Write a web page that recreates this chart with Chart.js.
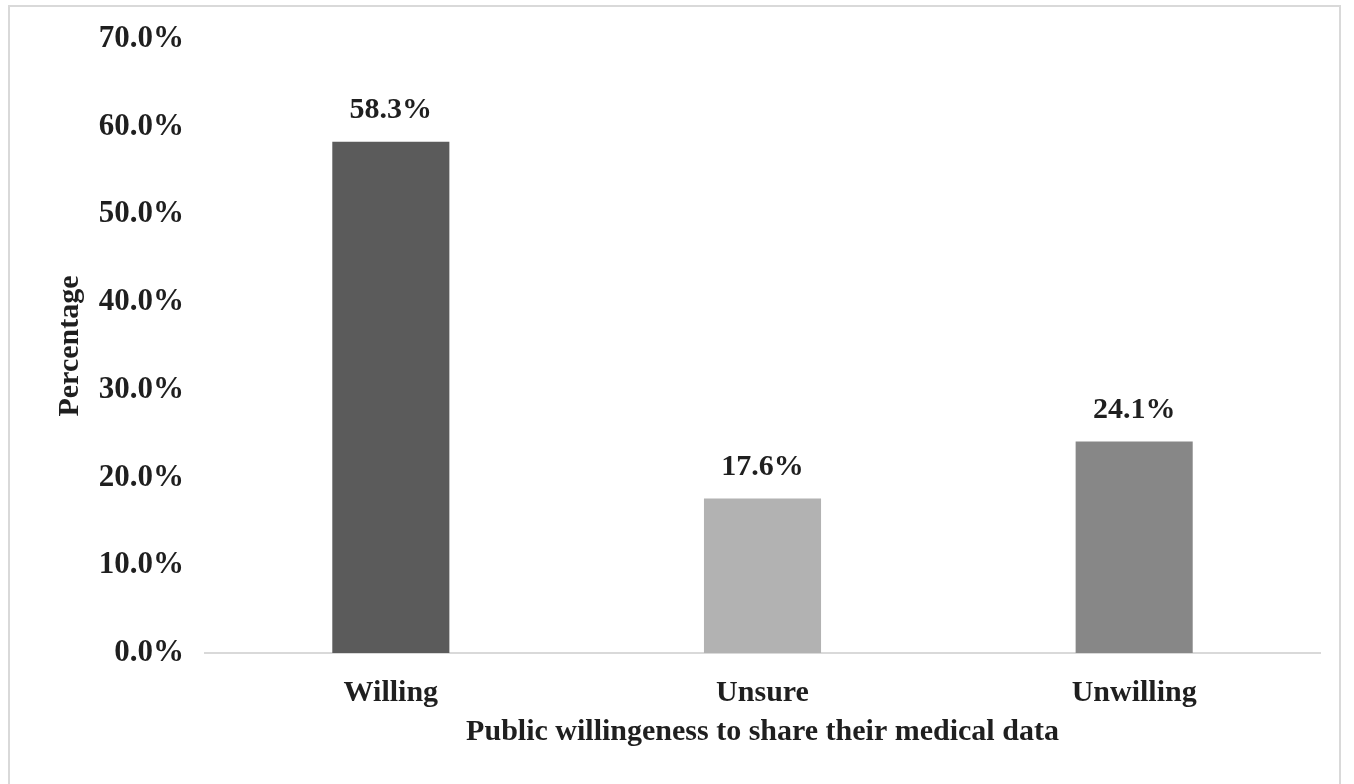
<!DOCTYPE html>
<html>
<head>
<meta charset="utf-8">
<script src="https://cdn.jsdelivr.net/npm/chart.js@4"></script>
<style>
  html, body { margin: 0; padding: 0; background: #fff; overflow: hidden; }
  #wrap { position: relative; width: 1354px; height: 784px; }
  #frame { position: absolute; left: 8px; top: 5px; width: 1333px; height: 820px; border: 2px solid #d9d9d9; box-sizing: border-box; pointer-events: none; }
  canvas { position: absolute; left: 0; top: 0; }
</style>
</head>
<body>
<div id="wrap">
  <canvas id="willingChart" width="1354" height="784"></canvas>
  <div id="frame"></div>
</div>
<script>
// Survey answers, values in percent
const categories = ['Willing', 'Unsure', 'Unwilling'];
const percentages = [58.3, 17.6, 24.1];
const barColors = ['#5b5b5b', '#b2b2b2', '#878787'];
const yTicks = [0, 10, 20, 30, 40, 50, 60, 70];

const serif = '"Liberation Serif", "Times New Roman", serif';
const textColor = '#1f1f1f';

// Simple value labels above the bars
const valueLabels = {
  id: 'valueLabels',
  afterDatasetsDraw(chart) {
    const ctx = chart.ctx;
    const meta = chart.getDatasetMeta(0);
    ctx.save();
    ctx.font = 'bold 30px ' + serif;
    ctx.fillStyle = textColor;
    ctx.textAlign = 'center';
    ctx.textBaseline = 'middle';
    meta.data.forEach((bar, i) => {
      ctx.fillText(percentages[i].toFixed(1) + '%', bar.x, bar.y - 31);
    });
    ctx.restore();
  }
};

const ctx = document.getElementById('willingChart').getContext('2d');
const willingChart = new Chart(ctx, {
  type: 'bar',
  data: {
    labels: categories,
    datasets: [{
      data: percentages,
      backgroundColor: barColors,
      borderWidth: 0,
      categoryPercentage: 1,
      barPercentage: 0.315
    }]
  },
  options: {
    responsive: false,
    animation: false,
    layout: { padding: { left: 52, top: 39, right: 34, bottom: 34 } },
    plugins: {
      legend: { display: false },
      tooltip: { enabled: false }
    },
    scales: {
      x: {
        grid: { display: false },
        border: { display: true, color: '#d9d9d9', width: 2 },
        ticks: {
          padding: 14,
          color: textColor,
          font: { family: serif, size: 30, weight: 'bold' }
        },
        title: {
          display: true,
          text: 'Public willingeness to share their medical data',
          color: textColor,
          padding: 0,
          font: { family: serif, size: 30, weight: 'bold' }
        },
        afterFit(scale) { scale.height = 97; }
      },
      y: {
        min: 0,
        max: 70,
        grid: { display: false },
        border: { display: false },
        afterBuildTicks(scale) { scale.ticks = yTicks.map(v => ({ value: v })); },
        ticks: {
          padding: 13,
          color: textColor,
          font: { family: serif, size: 31, weight: 'bold' },
          callback: v => v.toFixed(1) + '%'
        },
        title: {
          display: true,
          text: 'Percentage',
          color: textColor,
          padding: 0,
          font: { family: serif, size: 30, weight: 'bold' }
        },
        afterFit(scale) { scale.width = 153; }
      }
    }
  },
  plugins: [valueLabels]
});
</script>
</body>
</html>
